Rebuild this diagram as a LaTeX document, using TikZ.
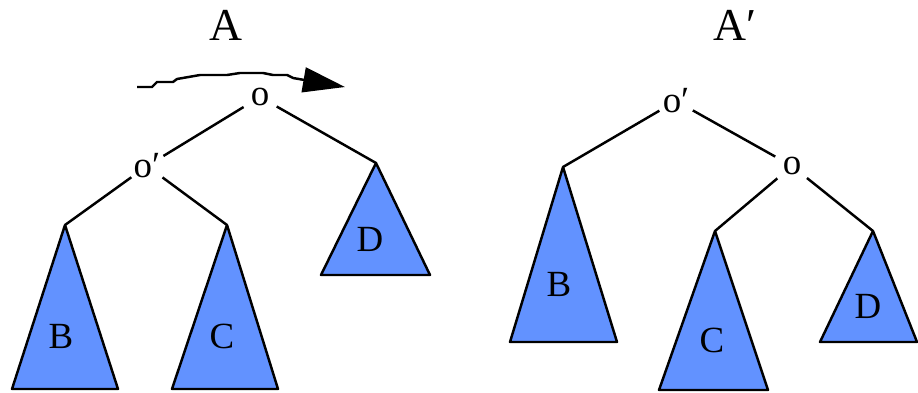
\documentclass[tikz,border=0pt]{standalone}
\usepackage{fontspec}
\setmainfont{Liberation Serif}
\usetikzlibrary{arrows.meta}
\definecolor{treeblue}{RGB}{98,146,255}
\begin{document}
\begin{tikzpicture}[x=0.02cm,y=-0.02cm,line width=1.4pt,line join=round,
  title/.style={font=\fontsize{26}{30}\selectfont},
  vertex/.style={circle,inner sep=0pt,minimum size=0.72cm,font=\fontsize{21}{24}\selectfont},
  subtree/.style={draw,fill=treeblue},
  leaf/.style={font=\fontsize{21}{24}\selectfont}]
\useasboundingbox (0,0) rectangle (918,392);
\node[title] (titleA) at (226,25) {A};
\node[title] (titleAp) at (735,25) {A′};
\draw[-{Triangle[length=0.84cm,width=0.5cm]}] (137,87) -- (152,87) -- (157,82) -- (173,82) -- (177,79) -- (200,75) -- (227,75) -- (240,73) -- (263,73) -- (273,75) -- (287,75) -- (293,78) -- (345,87);
\node[vertex] (o) at (260,97) {o};
\node[vertex] (op) at (147,166) {o′};
\coordinate (apexB) at (65,225);
\coordinate (apexC) at (227,225);
\coordinate (apexD) at (376,163);
\draw[subtree] (apexB) -- (12,389) -- (118,389) -- cycle;
\draw[subtree] (apexC) -- (172,389) -- (278,389) -- cycle;
\draw[subtree] (apexD) -- (321,275) -- (430,275) -- cycle;
\node[leaf] (labB) at (61,336) {B};
\node[leaf] (labC) at (222,336) {C};
\node[leaf] (labD) at (370,239) {D};
\draw (o) -- (op);
\draw (o) -- (apexD);
\draw (op) -- (apexB);
\draw (op) -- (apexC);
\node[vertex] (op2) at (676,101) {o′};
\node[vertex] (o2) at (792,166) {o};
\coordinate (apexB2) at (563,167);
\coordinate (apexC2) at (715,231);
\coordinate (apexD2) at (873,231);
\draw[subtree] (apexB2) -- (510,342) -- (617,342) -- cycle;
\draw[subtree] (apexC2) -- (659,390) -- (768,390) -- cycle;
\draw[subtree] (apexD2) -- (820,342) -- (917,342) -- cycle;
\node[leaf] (labB2) at (559,284) {B};
\node[leaf] (labC2) at (712,340) {C};
\node[leaf] (labD2) at (868,306) {D};
\draw (op2) -- (apexB2);
\draw (op2) -- (o2);
\draw (o2) -- (apexC2);
\draw (o2) -- (apexD2);
\end{tikzpicture}
\end{document}
